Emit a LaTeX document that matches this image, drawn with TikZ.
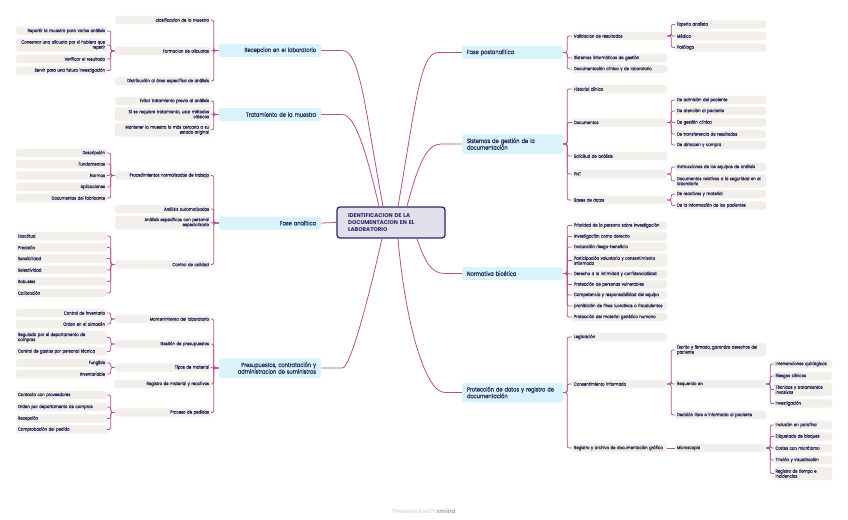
\documentclass[tikz,border=0pt]{standalone}
\usepackage{fontspec}
\setmainfont{Poppins}[FakeStretch=0.83,FakeBold=0.12]
\newfontfamily\ctrfam{Poppins}
\definecolor{conC}{HTML}{B7508A}
\definecolor{leafC}{HTML}{F2EEEA}
\definecolor{brC}{HTML}{D8F3FB}
\definecolor{ctrC}{HTML}{E2DEEA}
\definecolor{ctrB}{HTML}{27286A}
\definecolor{txtC}{HTML}{27255A}
\definecolor{ftA}{HTML}{D3CACA}
\definecolor{ftB}{HTML}{B3AAAA}
\newcommand\nohy{\hyphenpenalty=10000\exhyphenpenalty=10000}
\newcommand\lffont{\fontsize{4.6}{5}\selectfont\nohy}
\newcommand\brfont{\fontsize{6.1}{6.7}\selectfont\nohy}
\newcommand\ctfont{\ctrfam\fontsize{5.5}{7.2}\selectfont\bfseries\nohy}
\tikzset{
 leaf/.style={fill=leafC, rounded corners=1.8pt, text=txtC, font=\lffont, inner xsep=2pt, inner ysep=0pt, minimum height=8.3pt},
 two/.style={minimum height=13.3pt},
 L2/.style={leaf, text width=92pt, align=right},
 L3r/.style={leaf, text width=87pt, align=right},
 L3l/.style={leaf, text width=87pt, align=left},
 R2/.style={leaf, text width=91pt, align=left},
 R3/.style={leaf, text width=87pt, align=left},
 R4/.style={leaf, inner xsep=1.5pt, text width=55pt, align=left},
 brL/.style={fill=brC, rounded corners=2.5pt, text=txtC, font=\brfont, inner xsep=5pt, inner ysep=0pt, minimum height=13pt, text width=92pt, align=right},
 brR/.style={fill=brC, rounded corners=2.5pt, text=txtC, font=\brfont, inner xsep=5pt, inner ysep=0pt, minimum height=13pt, text width=91pt, align=left},
 brtwo/.style={minimum height=19.5pt},
 conn/.style={draw=conC, line width=0.8pt, rounded corners=2pt},
}
\begin{document}
\begin{tikzpicture}[x=1pt,y=-1pt]
\useasboundingbox[fill=white] (0,0) rectangle (848,519);

% center
\node[fill=ctrC, draw=ctrB, line width=1.3pt, rounded corners=3pt, text=ctrB, font=\ctfont, inner xsep=11pt, text width=86pt, align=left, minimum height=31pt] (c) at (391,222.5) {IDENTIFICACION DE LA\\DOCUMENTACION EN EL\\LABORATORIO};

% ---------- left branches
\node[brL] (bR) at (270,50.5) {Recepcion en el laboratorio};
\node[brL] (bT) at (270,114.5) {Tratamiento de la muestra};
\node[brL] (bA) at (270,223) {Fase analítica};
\node[brL,brtwo] (bP) at (270,368) {Presupuestos, contratación y\\administracion de suministros};

% Recepcion
\node[L2] (r1) at (163,20) {clasificacion de la muestra};
\node[L2] (r2) at (163,51) {Formacion de alicuotas};
\node[L2] (r3) at (163,81) {Distribución al área específica de análisis};
\node[L3r] (r21) at (61.5,31) {Repartir la muestra para varios análisis};
\node[L3r,two] (r22) at (61.5,45) {Conservar una alícuota por si hubiera que\\repetir};
\node[L3r] (r23) at (61.5,59) {Verificar el resultado};
\node[L3r] (r24) at (61.5,70.5) {Servir para una futura investigación};

% Tratamiento
\node[L2] (t1) at (163,101) {Evitar tratamiento previo al análisis};
\node[L2,two] (t2) at (163,114) {Si se requiere tratamiento, usar métodos\\clásicos};
\node[L2,two] (t3) at (163,130) {Mantener la muestra lo más cercana a su\\estado original};

% Fase analitica
\node[L2] (a1) at (163,175.5) {Procedimientos normalizados de trabajo};
\node[L2] (a2) at (163,209) {Análisis automatizados};
\node[L2,two] (a3) at (163,222.5) {Análisis específicos con personal\\especializado};
\node[L2] (a4) at (163,264.5) {Control de calidad};
\node[L3r] (a11) at (61.5,153) {Descripción};
\node[L3r] (a12) at (61.5,164) {Fundamentos};
\node[L3r] (a13) at (61.5,175.5) {Normas};
\node[L3r] (a14) at (61.5,187) {Aplicaciones};
\node[L3r] (a15) at (61.5,198) {Documentos del fabricante};
\node[L3l] (a41) at (61.5,236) {Exactitud};
\node[L3l] (a42) at (61.5,247.5) {Precisión};
\node[L3l] (a43) at (61.5,258.5) {Sensibilidad};
\node[L3l] (a44) at (61.5,270) {Selectividad};
\node[L3l] (a45) at (61.5,281.5) {Robustez};
\node[L3l] (a46) at (61.5,293) {Calibración};

% Presupuestos
\node[L2] (p1) at (163,319) {Mantenimiento del laboratorio};
\node[L2] (p2) at (163,344) {Gestión de presupuestos};
\node[L2] (p3) at (163,367.5) {Tipos de material};
\node[L2] (p4) at (163,384) {Registro de material y reactivos};
\node[L2] (p5) at (163,412.5) {Proceso de pedidos};
\node[L3r] (p11) at (61.5,313) {Control de inventario};
\node[L3r] (p12) at (61.5,324) {Orden en el almacén};
\node[L3l,two] (p21) at (61.5,337.5) {Regulado por el departamento de\\compras};
\node[L3l] (p22) at (61.5,351.5) {Control de gastos por personal técnico};
\node[L3r] (p31) at (61.5,363) {Fungible};
\node[L3r] (p32) at (61.5,374) {Inventariable};
\node[L3l] (p51) at (61.5,395) {Contacto con proveedores};
\node[L3l] (p52) at (61.5,407) {Orden por departamento de compras};
\node[L3l] (p53) at (61.5,418.5) {Recepción};
\node[L3l] (p54) at (61.5,429.5) {Comprobación del pedido};

% ---------- right branches
\node[brR] (bF) at (512.5,52.5) {Fase postanalítica};
\node[brR,brtwo] (bS) at (512.5,144) {Sistemas de gestión de la\\documentación};
\node[brR] (bN) at (512.5,273.5) {Normativa bioética};
\node[brR,brtwo] (bD) at (512.5,392.5) {Protección de datos y registro de\\documentación};

% Fase postanalitica
\node[R2] (f1) at (619.5,36) {Validacion de resultados};
\node[R2] (f2) at (619.5,58) {Sistemas informáticos de gestión};
\node[R2] (f3) at (619.5,69) {Documentación clínica y de laboratorio};
\node[R3] (f11) at (720.5,24.5) {Experto analista};
\node[R3] (f12) at (720.5,36) {Médico};
\node[R3] (f13) at (720.5,47.5) {Patólogo};

% Sistemas
\node[R2] (s1) at (619.5,89) {Historial clínico};
\node[R2] (s2) at (619.5,122.5) {Documentos};
\node[R2] (s3) at (619.5,156) {Solicitud de análisis};
\node[R2] (s4) at (619.5,174) {PNT};
\node[R2] (s5) at (619.5,200) {Bases de datos};
\node[R3] (s21) at (720.5,100) {De admisión del paciente};
\node[R3] (s22) at (720.5,111) {De atención al paciente};
\node[R3] (s23) at (720.5,122.5) {De gestión clínica};
\node[R3] (s24) at (720.5,134) {De transferencia de resultados};
\node[R3] (s25) at (720.5,145) {De almacen y compra};
\node[R3] (s41) at (720.5,167) {Instrucciones de los equipos de análisis};
\node[R3,two] (s42) at (720.5,181) {Documentos relativos a la seguridad en el\\laboratorio};
\node[R3] (s51) at (720.5,194) {De reactivos y material};
\node[R3] (s52) at (720.5,205.5) {De la información de los pacientes};

% Normativa
\node[R2] (n1) at (619.5,225.5) {Prioridad de la persona sobre investigación};
\node[R2] (n2) at (619.5,236.5) {Investigación como derecho};
\node[R2] (n3) at (619.5,247) {Evaluación riesgo-beneficio};
\node[R2,two] (n4) at (619.5,260.5) {Participación voluntaria y consentimiento\\informado};
\node[R2] (n5) at (619.5,274) {Derecho a la intimidad y confidencialidad};
\node[R2] (n6) at (619.5,284.5) {Protección de personas vulnerables};
\node[R2] (n7) at (619.5,295) {Competencia y responsabilidad del equipo};
\node[R2] (n8) at (619.5,306) {prohibición de fines lucrativos o fraudulentos};
\node[R2] (n9) at (619.5,317) {Protección del material genético humano};

% Proteccion
\node[R2] (d1) at (619.5,337) {Legislación};
\node[R2] (d2) at (619.5,384) {Consentimiento informado};
\node[R2] (d3) at (619.5,448) {Registro y archivo de documentación gráfica};
\node[R3,two] (d21) at (720.5,350) {Escrito y firmado, garantiza derechos del\\paciente};
\node[R3] (d22) at (720.5,384) {Requerido en};
\node[R3] (d23) at (720.5,415) {Decisión libre e informada al paciente};
\node[R3] (d31) at (720.5,448) {Microscopia};
\node[R4] (d221) at (803,364) {Intervenciones quirúrgicas};
\node[R4] (d222) at (803,376) {Riesgos clínicos};
\node[R4,two] (d223) at (803,389.5) {Técnicas y tratamientos\\invasivos};
\node[R4] (d224) at (803,403.5) {Investigación};
\node[R4] (d311) at (803,425) {Inclusión en parafina};
\node[R4] (d312) at (803,436.5) {Etiquetado de bloques};
\node[R4] (d313) at (803,448) {Cortes con micrótomo};
\node[R4] (d314) at (803,460) {Tinción y visualización};
\node[R4,two] (d315) at (803,473.5) {Registro de tiempo e\\incidencias};

% ---------- main connectors
\draw[conn] ([xshift=-8pt]c.north) .. controls +(-18,-97) and +(20,0) .. ([xshift=19pt]bR.east) -- (bR.east);
\draw[conn] ([xshift=-12pt]c.north) .. controls +(-11,-47) and +(16,0) .. ([xshift=19pt]bT.east) -- (bT.east);
\draw[conn] (c.west) -- (bA.east);
\draw[conn] ([xshift=-9pt]c.south) .. controls +(-14,62) and +(10,0) .. ([xshift=19pt]bP.east) -- (bP.east);
\draw[conn] ([xshift=7pt]c.north) .. controls +(17,-97) and +(-20,0) .. ([xshift=-22pt]bF.west) -- (bF.west);
\draw[conn] ([xshift=16pt]c.north) .. controls +(11,-42) and +(-16,0) .. ([xshift=-19pt]bS.west) -- (bS.west);
\draw[conn] ([xshift=26pt]c.south) .. controls +(8,24) and +(-15,0) .. ([xshift=-15pt]bN.west) -- (bN.west);
\draw[conn] ([xshift=7pt]c.south) .. controls +(7,82) and +(-22,0) .. ([xshift=-15pt]bD.west) -- (bD.west);

% ---------- left tree connectors
\foreach \k in {r1,r2,r3} \draw[conn] (bR.west) -- ++(-5,0) |- (\k.east);
\foreach \k in {r21,r22,r23,r24} \draw[conn] (r2.west) -- ++(-4,0) |- (\k.east);
\foreach \k in {t1,t2,t3} \draw[conn] (bT.west) -- ++(-5,0) |- (\k.east);
\foreach \k in {a1,a2,a3,a4} \draw[conn] (bA.west) -- ++(-5,0) |- (\k.east);
\foreach \k in {a11,a12,a13,a14,a15} \draw[conn] (a1.west) -- ++(-4,0) |- (\k.east);
\foreach \k in {a41,a42,a43,a44,a45,a46} \draw[conn] (a4.west) -- ++(-4,0) |- (\k.east);
\foreach \k in {p1,p2,p3,p4,p5} \draw[conn] (bP.west) -- ++(-5,0) |- (\k.east);
\foreach \k in {p11,p12} \draw[conn] (p1.west) -- ++(-4,0) |- (\k.east);
\foreach \k in {p21,p22} \draw[conn] (p2.west) -- ++(-4,0) |- (\k.east);
\foreach \k in {p31,p32} \draw[conn] (p3.west) -- ++(-4,0) |- (\k.east);
\foreach \k in {p51,p52,p53,p54} \draw[conn] (p5.west) -- ++(-4,0) |- (\k.east);

% ---------- right tree connectors
\foreach \k in {f1,f2,f3} \draw[conn] (bF.east) -- ++(4,0) |- (\k.west);
\foreach \k in {f11,f12,f13} \draw[conn] (f1.east) -- ++(4,0) |- (\k.west);
\foreach \k in {s1,s2,s3,s4,s5} \draw[conn] (bS.east) -- ++(4,0) |- (\k.west);
\foreach \k in {s21,s22,s23,s24,s25} \draw[conn] (s2.east) -- ++(4,0) |- (\k.west);
\foreach \k in {s41,s42} \draw[conn] (s4.east) -- ++(4,0) |- (\k.west);
\foreach \k in {s51,s52} \draw[conn] (s5.east) -- ++(4,0) |- (\k.west);
\foreach \k in {n1,n2,n3,n4,n5,n6,n7,n8,n9} \draw[conn] (bN.east) -- ++(4,0) |- (\k.west);
\foreach \k in {d1,d2,d3} \draw[conn] (bD.east) -- ++(4,0) |- (\k.west);
\foreach \k in {d21,d22,d23} \draw[conn] (d2.east) -- ++(4,0) |- (\k.west);
\foreach \k in {d31} \draw[conn] (d3.east) -- (\k.west);
\foreach \k in {d221,d222,d223,d224} \draw[conn] (d22.east) -- ++(4,0) |- (\k.west);
\foreach \k in {d311,d312,d313,d314,d315} \draw[conn] (d31.east) -- ++(4,0) |- (\k.west);

% footer
\node[font=\ctrfam\fontsize{5.8}{7}\selectfont, inner sep=0pt] (ft) at (424,511) {\textcolor{ftA}{Presented with} \textcolor{ftB}{\bfseries xmind}};
\end{tikzpicture}
\end{document}
